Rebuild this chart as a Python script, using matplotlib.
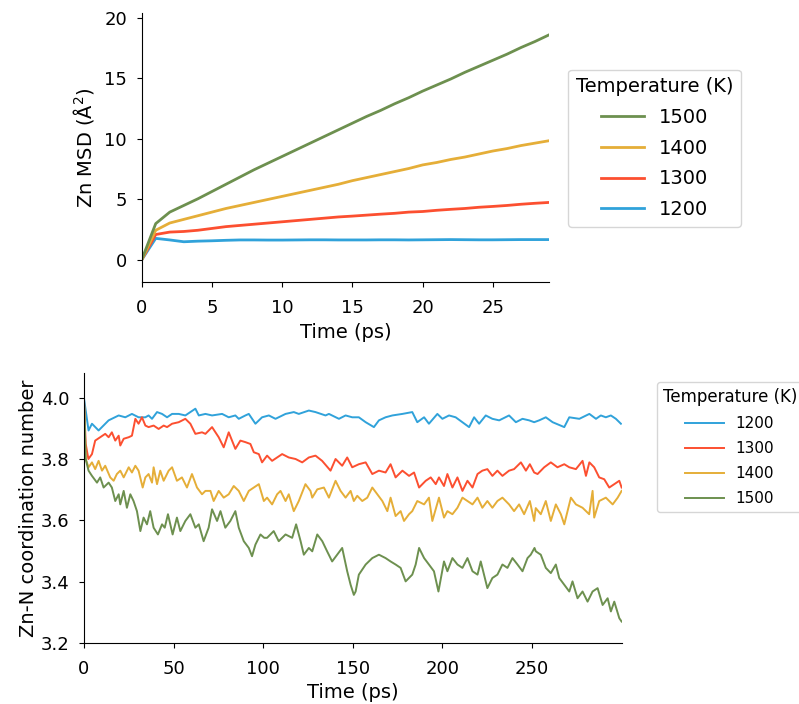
import matplotlib
matplotlib.use("Agg")
import matplotlib.pyplot as plt

temps = ["1200", "1300", "1400", "1500"]
colors = {"1200": "#30a2da", "1300": "#fc4f30", "1400": "#e5ae38", "1500": "#6d904f"}

# ---- Top panel: Zn MSD (Å^2) vs time (ps)
msd_time = list(range(0, 30))
msd_1200 = [0, 1.78, 1.65, 1.5, 1.55, 1.58, 1.62, 1.65, 1.65, 1.64, 1.64, 1.65, 1.66, 1.66, 1.65,
            1.65, 1.65, 1.66, 1.66, 1.65, 1.66, 1.67, 1.68, 1.67, 1.66, 1.66, 1.67, 1.68, 1.68, 1.68]
msd_1300 = [0, 2.1, 2.3, 2.35, 2.45, 2.6, 2.75, 2.85, 2.95, 3.05, 3.15, 3.25, 3.35, 3.45, 3.55,
            3.62, 3.7, 3.78, 3.85, 3.95, 4.0, 4.1, 4.18, 4.25, 4.35, 4.42, 4.5, 4.6, 4.68, 4.75]
msd_1400 = [0, 2.45, 3.05, 3.35, 3.65, 3.95, 4.25, 4.5, 4.75, 5.0, 5.25, 5.5, 5.75, 6.0, 6.25,
            6.55, 6.8, 7.05, 7.3, 7.55, 7.85, 8.05, 8.3, 8.5, 8.75, 9.0, 9.2, 9.45, 9.65, 9.85]
msd_1500 = [0, 3.0, 3.95, 4.5, 5.05, 5.65, 6.25, 6.85, 7.45, 8.0, 8.55, 9.1, 9.65, 10.2, 10.75,
            11.3, 11.85, 12.35, 12.9, 13.4, 13.95, 14.45, 14.95, 15.5, 16.0, 16.5, 17.0, 17.55, 18.05, 18.6]

# ---- Bottom panel: Zn-N coordination number vs time (ps), (time, value) pairs
cn_1200 = [(0, 4.0), (2.6, 3.893), (4.5, 3.915), (8.2, 3.893), (13.8, 3.926), (19.4, 3.942), (23.1, 3.936),
           (26.8, 3.947), (30.5, 3.936), (34.3, 3.936), (36.1, 3.942), (38.0, 3.931), (40.8, 3.953),
           (43.6, 3.947), (46.4, 3.936), (49.2, 3.947), (52.9, 3.947), (56.6, 3.942), (62.2, 3.964),
           (64.1, 3.942), (67.8, 3.947), (71.5, 3.942), (77.1, 3.947), (80.8, 3.936), (84.5, 3.942),
           (86.4, 3.931), (90.1, 3.942), (92.0, 3.947), (95.7, 3.915), (99.4, 3.936), (103.2, 3.942),
           (106.9, 3.931), (112.5, 3.947), (117.1, 3.953), (119.9, 3.947), (125.5, 3.958), (129.2, 3.953),
           (134.8, 3.942), (136.7, 3.947), (142.3, 3.931), (146.0, 3.942), (149.7, 3.936), (153.4, 3.936),
           (157.2, 3.920), (161.8, 3.904), (164.6, 3.926), (168.3, 3.936), (172.1, 3.942), (177.7, 3.947),
           (183.2, 3.953), (186.0, 3.920), (189.8, 3.936), (192.5, 3.915), (197.2, 3.947), (200.0, 3.931),
           (203.7, 3.942), (207.4, 3.936), (214.9, 3.904), (217.7, 3.936), (220.5, 3.915), (224.2, 3.942),
           (227.9, 3.931), (231.7, 3.926), (237.2, 3.942), (241.0, 3.920), (244.7, 3.931), (248.4, 3.926),
           (251.2, 3.920), (254.0, 3.926), (257.7, 3.936), (261.5, 3.920), (268.0, 3.904), (270.8, 3.936),
           (276.4, 3.931), (282.0, 3.947), (285.7, 3.931), (288.4, 3.942), (291.2, 3.936), (294.0, 3.942),
           (296.8, 3.931), (299.6, 3.915)]

cn_1300 = [(0, 4.0), (1.0, 3.85), (2.5, 3.80), (4.5, 3.816), (6.3, 3.860), (9.1, 3.871), (11.9, 3.882),
           (13.8, 3.871), (15.6, 3.887), (17.5, 3.860), (19.4, 3.876), (20.3, 3.844), (22.2, 3.866),
           (25.0, 3.871), (26.8, 3.876), (28.7, 3.931), (30.5, 3.915), (32.4, 3.936), (34.3, 3.909),
           (36.1, 3.904), (38.9, 3.909), (41.7, 3.898), (44.5, 3.909), (46.4, 3.904), (49.2, 3.915),
           (52.9, 3.920), (56.6, 3.931), (59.4, 3.915), (62.2, 3.882), (65.9, 3.887), (67.8, 3.882),
           (71.5, 3.904), (75.2, 3.871), (78.0, 3.838), (80.8, 3.887), (84.5, 3.833), (87.3, 3.860),
           (90.1, 3.855), (92.9, 3.849), (94.8, 3.822), (97.6, 3.816), (99.4, 3.789), (102.2, 3.811),
           (105.0, 3.794), (110.6, 3.816), (114.3, 3.805), (118.1, 3.800), (121.8, 3.789), (125.5, 3.805),
           (129.2, 3.811), (132.9, 3.794), (137.6, 3.762), (140.4, 3.800), (144.1, 3.778), (146.9, 3.805),
           (149.7, 3.773), (153.4, 3.783), (157.2, 3.789), (160.9, 3.751), (164.6, 3.762), (168.3, 3.756),
           (171.1, 3.783), (173.9, 3.740), (177.7, 3.762), (181.4, 3.745), (184.2, 3.756), (187.0, 3.707),
           (190.7, 3.729), (193.5, 3.740), (196.3, 3.718), (198.1, 3.740), (200.9, 3.712), (202.8, 3.751),
           (205.6, 3.707), (208.4, 3.740), (211.2, 3.696), (214.0, 3.729), (216.8, 3.707), (219.6, 3.751),
           (222.3, 3.762), (225.1, 3.767), (227.9, 3.745), (230.7, 3.762), (233.5, 3.745), (237.2, 3.762),
           (240.0, 3.767), (243.8, 3.789), (246.6, 3.762), (248.8, 3.783), (251.2, 3.756), (253.1, 3.751),
           (256.8, 3.773), (260.5, 3.789), (264.2, 3.773), (268.0, 3.783), (270.8, 3.773), (274.5, 3.767),
           (278.2, 3.794), (280.1, 3.745), (282.0, 3.789), (284.7, 3.773), (287.5, 3.740), (290.3, 3.734),
           (293.1, 3.707), (295.9, 3.718), (298.7, 3.729), (300.0, 3.707)]

cn_1400 = [(0, 4.0), (1.0, 3.80), (2.6, 3.773), (4.5, 3.789), (6.3, 3.767), (8.2, 3.794), (10.1, 3.762),
           (11.9, 3.778), (14.7, 3.740), (16.6, 3.729), (18.4, 3.751), (20.3, 3.762), (22.2, 3.740),
           (25.0, 3.773), (26.8, 3.756), (28.7, 3.778), (30.5, 3.762), (32.8, 3.707), (34.3, 3.740),
           (36.1, 3.751), (38.0, 3.723), (38.9, 3.773), (40.8, 3.718), (42.6, 3.762), (44.5, 3.729),
           (47.3, 3.762), (49.2, 3.773), (51.9, 3.729), (54.7, 3.740), (57.5, 3.707), (60.3, 3.751),
           (63.1, 3.707), (65.9, 3.685), (67.8, 3.696), (70.6, 3.696), (72.4, 3.663), (75.2, 3.696),
           (78.0, 3.674), (80.8, 3.685), (83.6, 3.712), (86.4, 3.696), (89.2, 3.663), (92.0, 3.696),
           (94.8, 3.707), (97.6, 3.718), (100.4, 3.663), (102.2, 3.674), (105.0, 3.652), (107.8, 3.685),
           (109.7, 3.696), (112.5, 3.663), (114.3, 3.685), (117.1, 3.630), (119.9, 3.663), (123.6, 3.718),
           (126.4, 3.696), (127.4, 3.674), (130.2, 3.701), (133.9, 3.707), (136.7, 3.674), (140.4, 3.729),
           (143.2, 3.696), (146.0, 3.674), (148.8, 3.696), (150.6, 3.663), (152.5, 3.680), (155.3, 3.663),
           (158.1, 3.674), (160.9, 3.707), (163.7, 3.685), (166.5, 3.663), (169.3, 3.630), (171.1, 3.674),
           (173.9, 3.614), (176.7, 3.630), (178.6, 3.598), (181.4, 3.620), (183.2, 3.630), (186.0, 3.663),
           (189.8, 3.652), (192.5, 3.674), (194.4, 3.598), (198.1, 3.674), (200.9, 3.609), (202.8, 3.630),
           (205.6, 3.620), (208.4, 3.641), (211.2, 3.674), (214.0, 3.663), (216.8, 3.652), (219.6, 3.674),
           (222.3, 3.641), (225.1, 3.663), (227.9, 3.641), (230.7, 3.663), (233.5, 3.674), (237.2, 3.652),
           (240.0, 3.630), (242.8, 3.652), (245.6, 3.620), (248.8, 3.663), (251.2, 3.598), (252.1, 3.640),
           (254.9, 3.620), (257.7, 3.663), (260.5, 3.598), (263.3, 3.652), (266.1, 3.620), (268.0, 3.587),
           (271.7, 3.674), (274.5, 3.652), (278.2, 3.641), (281.9, 3.620), (283.8, 3.696), (284.7, 3.609),
           (287.5, 3.663), (291.2, 3.674), (295.0, 3.652), (297.8, 3.674), (300.0, 3.696)]

cn_1500 = [(0, 4.0), (1.0, 3.80), (2.6, 3.762), (4.5, 3.745), (7.3, 3.723), (9.1, 3.740), (11.0, 3.707),
           (13.8, 3.723), (15.6, 3.707), (17.5, 3.663), (19.4, 3.685), (20.3, 3.652), (22.2, 3.696),
           (24.0, 3.641), (25.9, 3.685), (27.7, 3.663), (29.6, 3.630), (31.5, 3.565), (33.3, 3.609),
           (35.2, 3.587), (37.0, 3.630), (38.9, 3.576), (41.3, 3.554), (43.6, 3.587), (45.1, 3.576),
           (46.9, 3.620), (48.2, 3.587), (49.5, 3.554), (51.9, 3.609), (53.8, 3.565), (56.6, 3.598),
           (59.4, 3.620), (62.2, 3.576), (64.1, 3.587), (66.8, 3.532), (69.6, 3.576), (71.5, 3.636),
           (74.3, 3.598), (76.2, 3.630), (78.9, 3.576), (81.7, 3.598), (84.5, 3.630), (86.4, 3.576),
           (89.2, 3.532), (92.0, 3.510), (93.8, 3.483), (95.7, 3.521), (98.5, 3.554), (100.6, 3.543),
           (102.2, 3.543), (105.9, 3.565), (108.7, 3.532), (112.5, 3.554), (116.2, 3.543), (118.4, 3.587),
           (120.9, 3.532), (122.7, 3.488), (125.5, 3.510), (127.4, 3.499), (130.2, 3.554), (133.0, 3.532),
           (135.7, 3.499), (138.5, 3.466), (141.3, 3.488), (144.1, 3.510), (146.9, 3.434), (148.8, 3.390),
           (150.6, 3.357), (151.6, 3.368), (153.4, 3.423), (157.2, 3.456), (160.9, 3.477), (164.6, 3.488),
           (168.3, 3.477), (171.1, 3.466), (173.9, 3.456), (176.7, 3.445), (179.5, 3.401), (183.2, 3.423),
           (185.1, 3.456), (187.0, 3.510), (189.8, 3.477), (192.5, 3.456), (195.3, 3.434), (197.8, 3.368),
           (200.9, 3.466), (202.8, 3.434), (205.6, 3.477), (208.4, 3.456), (211.2, 3.445), (214.0, 3.477),
           (216.8, 3.434), (219.6, 3.423), (221.4, 3.466), (225.1, 3.379), (227.9, 3.412), (230.7, 3.423),
           (233.5, 3.456), (236.3, 3.445), (239.1, 3.477), (241.9, 3.456), (244.7, 3.434), (247.5, 3.477),
           (249.3, 3.488), (251.4, 3.510), (252.1, 3.499), (254.9, 3.488), (257.7, 3.445), (260.5, 3.428),
           (263.3, 3.456), (265.2, 3.412), (268.0, 3.390), (270.8, 3.368), (272.6, 3.401), (275.4, 3.346),
           (278.2, 3.368), (281.0, 3.335), (283.8, 3.368), (286.6, 3.379), (289.4, 3.324), (292.2, 3.346),
           (294.0, 3.303), (295.9, 3.335), (298.7, 3.281), (300.0, 3.270)]

msd = {"1200": msd_1200, "1300": msd_1300, "1400": msd_1400, "1500": msd_1500}
cn = {"1200": cn_1200, "1300": cn_1300, "1400": cn_1400, "1500": cn_1500}

plt.rcParams["xtick.labelsize"] = 13
plt.rcParams["ytick.labelsize"] = 13
plt.rcParams["axes.labelsize"] = 14
plt.rcParams["xtick.major.pad"] = 8.5
plt.rcParams["ytick.major.pad"] = 7
fig = plt.figure(figsize=(7.99, 7.04), dpi=100)

# Top axes
ax1 = fig.add_axes([0.1773, 0.599, 0.51, 0.3825])
for T in temps:
    ax1.plot(msd_time, msd[T], color=colors[T], lw=2, label=T)
ax1.set_xlim(0, 29)
ax1.set_ylim(-1.85, 20.4)
ax1.set_xticks([0, 5, 10, 15, 20, 25])
ax1.set_yticks([0, 5, 10, 15, 20])
ax1.set_xlabel("Time (ps)")
ax1.set_ylabel("Zn MSD (Å$^2$)", labelpad=6)
for s in ("top", "right"):
    ax1.spines[s].set_visible(False)
h, l = ax1.get_legend_handles_labels()
ax1.legend(h[::-1], l[::-1], title="Temperature (K)", loc="upper left",
           bbox_to_anchor=(1.047, 0.79), borderaxespad=0, fontsize=14, title_fontsize=14,
           handlelength=2.2, labelspacing=0.6)

# Bottom axes
ax2 = fig.add_axes([0.105, 0.0866, 0.673, 0.3834])
for T in temps:
    ts = [p[0] for p in cn[T]]
    vs = [p[1] for p in cn[T]]
    ax2.plot(ts, vs, color=colors[T], lw=1.4, label=T)
ax2.set_xlim(0, 300)
ax2.set_ylim(3.2, 4.08)
ax2.set_xticks([0, 50, 100, 150, 200, 250])
ax2.set_yticks([3.2, 3.4, 3.6, 3.8, 4.0])
ax2.set_xlabel("Time (ps)")
ax2.set_ylabel("Zn-N coordination number", labelpad=2)
for s in ("top", "right"):
    ax2.spines[s].set_visible(False)
ax2.legend(title="Temperature (K)", loc="upper left", bbox_to_anchor=(1.065, 0.967),
           borderaxespad=0, fontsize=11, title_fontsize=12, handlelength=2.5, labelspacing=0.65)

fig.savefig("out.png", dpi=100)
